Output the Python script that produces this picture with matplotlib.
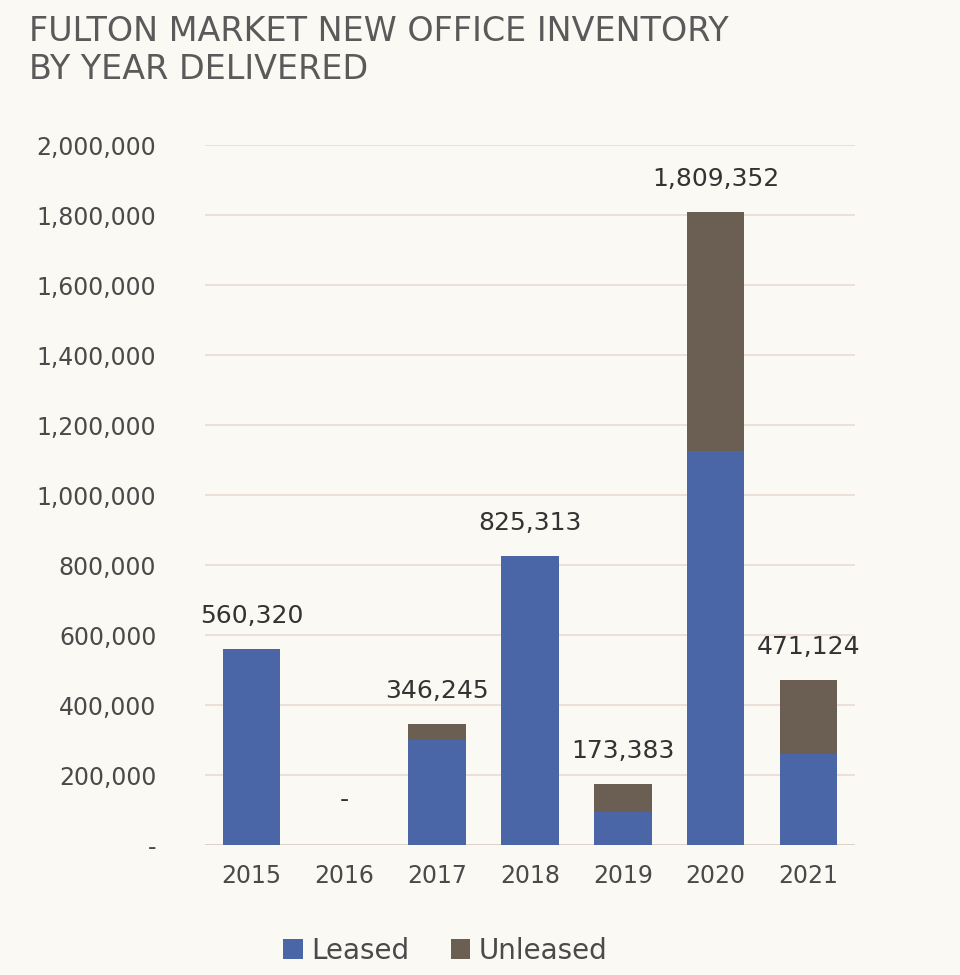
import numpy as np
import matplotlib.pyplot as plt

years = ['2015', '2016', '2017', '2018', '2019', '2020', '2021']
leased = [560320, 0, 300000, 825313, 95000, 1125000, 260000]
unleased = [0, 0, 46245, 0, 78383, 684352, 211124]
totals = ['560,320', '-', '346,245', '825,313', '173,383', '1,809,352', '471,124']
yticks = [0, 200000, 400000, 600000, 800000, 1000000, 1200000, 1400000, 1600000, 1800000, 2000000]

bg = '#fbf9f4'
fig = plt.figure(figsize=(9.6, 9.75), dpi=100, facecolor=bg)
ax = fig.add_axes([0.2135, 0.1333, 0.677, 0.7177], facecolor=bg)

x = np.arange(len(years))
ax.bar(x, leased, 0.62, color='#4a66a6', label='Leased', zorder=3)
ax.bar(x, unleased, 0.62, bottom=leased, color='#6b5e52', label='Unleased', zorder=3)

for i, t in enumerate(totals):
    top = leased[i] + unleased[i]
    off = 60000 if top > 0 else 95000
    ax.text(x[i], top + off, t, ha='center', va='bottom', fontsize=18, color='#333333')

ax.set_ylim(0, 2000000)
ax.set_xlim(-0.5, 6.5)
ax.set_yticks(yticks)
ax.set_yticklabels(['-'] + [f'{v:,}' for v in yticks[1:]], fontsize=17, color='#4a4a4a')
ax.set_xticks(x)
ax.set_xticklabels(years, fontsize=17, color='#4a4a4a')
ax.tick_params(length=0, pad=14)
ax.tick_params(axis='y', pad=35)
ax.grid(axis='y', color='#ecd9d3', lw=1.2, zorder=0)
for s in ax.spines.values():
    s.set_visible(False)
ax.axhline(0, color='#d8d0c8', lw=1.2, zorder=2)

fig.text(0.03, 0.912, 'FULTON MARKET NEW OFFICE INVENTORY\nBY YEAR DELIVERED',
         fontsize=24, color='#5a5a5a', ha='left', va='bottom', linespacing=1.2)

ax.legend(loc='upper center', bbox_to_anchor=(0.37, -0.095), ncol=2, frameon=False,
          fontsize=20, handlelength=0.7, handleheight=0.7, handletextpad=0.3,
          columnspacing=1.5, labelcolor='#4a4a4a')

fig.savefig('out.png', dpi=100, facecolor=bg)
